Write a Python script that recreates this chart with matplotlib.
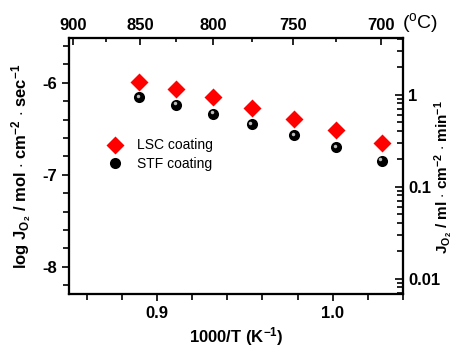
#Import required packages
import numpy as np
import matplotlib.pyplot as plt
from matplotlib.ticker import MultipleLocator, LogLocator, FixedLocator, NullFormatter
from matplotlib.transforms import offset_copy

plt.rcParams['font.family'] = ['Liberation Sans', 'DejaVu Sans']
plt.rcParams['axes.unicode_minus'] = False
plt.rcParams['mathtext.fontset'] = 'custom'
plt.rcParams['mathtext.rm'] = 'Liberation Sans:bold'
plt.rcParams['mathtext.it'] = 'Liberation Sans:bold'
plt.rcParams['mathtext.bf'] = 'Liberation Sans:bold'

#Data
inv_T = [0.890, 0.911, 0.932, 0.954, 0.978, 1.002, 1.028]
lsc = [-5.99, -6.07, -6.16, -6.275, -6.39, -6.51, -6.66]
stf = [-6.16, -6.24, -6.34, -6.45, -6.57, -6.70, -6.85]
temp_major = [900, 850, 800, 750, 700]
temp_minor = [875, 825, 775, 725]
conv = 1.345e6  # mol/cm2/s -> ml/cm2/min

fig = plt.figure(figsize=(4.58, 3.52), dpi=100)
ax = fig.add_axes([0.1507, 0.1634, 0.7293, 0.7286])

ax.plot(inv_T, lsc, 'D', color='#ff0000', ms=9, mec='none', label='LSC coating', zorder=3)
ax.plot(inv_T, stf, 'o', color='black', ms=8, mec='none', label='STF coating', zorder=3)
# shine on the spheres
shine = offset_copy(ax.transData, fig=fig, x=-1.5, y=1.5, units='dots')
ax.plot(inv_T, stf, 'o', color='#bbbbbb', ms=2.5, mec='none', transform=shine, zorder=4)

ax.set_xlim(0.85, 1.04)
ax.set_ylim(-8.302, -5.514)
ax.xaxis.set_major_locator(MultipleLocator(0.1))
ax.xaxis.set_minor_locator(MultipleLocator(0.02))
ax.yaxis.set_major_locator(MultipleLocator(1))
ax.yaxis.set_minor_locator(MultipleLocator(0.2))
ax.tick_params(which='both', direction='out', width=1.2, labelsize=12)
ax.tick_params(which='major', length=5)
ax.tick_params(which='minor', length=4)
for lab in ax.get_xticklabels() + ax.get_yticklabels():
    lab.set_fontweight('bold')
for sp in ax.spines.values():
    sp.set_linewidth(1.5)

ax.set_xlabel('1000/T (K$^{\\mathregular{-1}}$)', fontsize=12, fontweight='bold', labelpad=3)
ax.set_ylabel('log J$_{\\mathregular{O_2}}$ / mol $\\cdot$ cm$^{\\mathregular{-2}}$ $\\cdot$ sec$^{\\mathregular{-1}}$',
              fontsize=12, fontweight='bold', labelpad=6)

#Top axis: temperature
top = ax.twiny()
top.set_xlim(ax.get_xlim())
top.xaxis.set_major_locator(FixedLocator([1000 / (t + 273.15) for t in temp_major]))
top.xaxis.set_minor_locator(FixedLocator([1000 / (t + 273.15) for t in temp_minor]))
top.set_xticklabels([str(t) for t in temp_major], fontsize=12, fontweight='bold')
top.tick_params(which='both', direction='in', width=1.2)
top.tick_params(which='major', length=5)
top.tick_params(which='minor', length=3)
fig.text(0.918, 0.935, '($^{\\mathregular{o}}$C)', fontsize=14, ha='center', va='center')

#Right axis: flux in ml/cm2/min
right = ax.twinx()
right.set_yscale('log')
lo, hi = ax.get_ylim()
right.set_ylim(10 ** lo * conv, 10 ** hi * conv)
right.yaxis.set_major_locator(LogLocator(base=10))
right.yaxis.set_minor_locator(LogLocator(base=10, subs=np.arange(2, 10)))
right.yaxis.set_minor_formatter(NullFormatter())
right.set_yticks([0.01, 0.1, 1])
right.set_yticklabels(['0.01', '0.1', '1'], fontsize=12, fontweight='bold')
right.tick_params(which='both', direction='in', width=1.2)
right.tick_params(which='major', length=6)
right.tick_params(which='minor', length=4)
fig.text(0.968, 0.497,
         'J$_{\\mathregular{O_2}}$ / ml $\\cdot$ cm$^{\\mathregular{-2}}$ $\\cdot$ min$^{\\mathregular{-1}}$',
         fontsize=11, fontweight='bold', rotation=90, ha='center', va='center')
for a in (top, right):
    for sp in a.spines.values():
        sp.set_linewidth(1.5)

ax.legend(loc='upper left', bbox_to_anchor=(0.08, 0.63), frameon=False, fontsize=10,
          handletextpad=0.6, labelspacing=0.3, borderaxespad=0)

plt.savefig('out.png', dpi=100)
